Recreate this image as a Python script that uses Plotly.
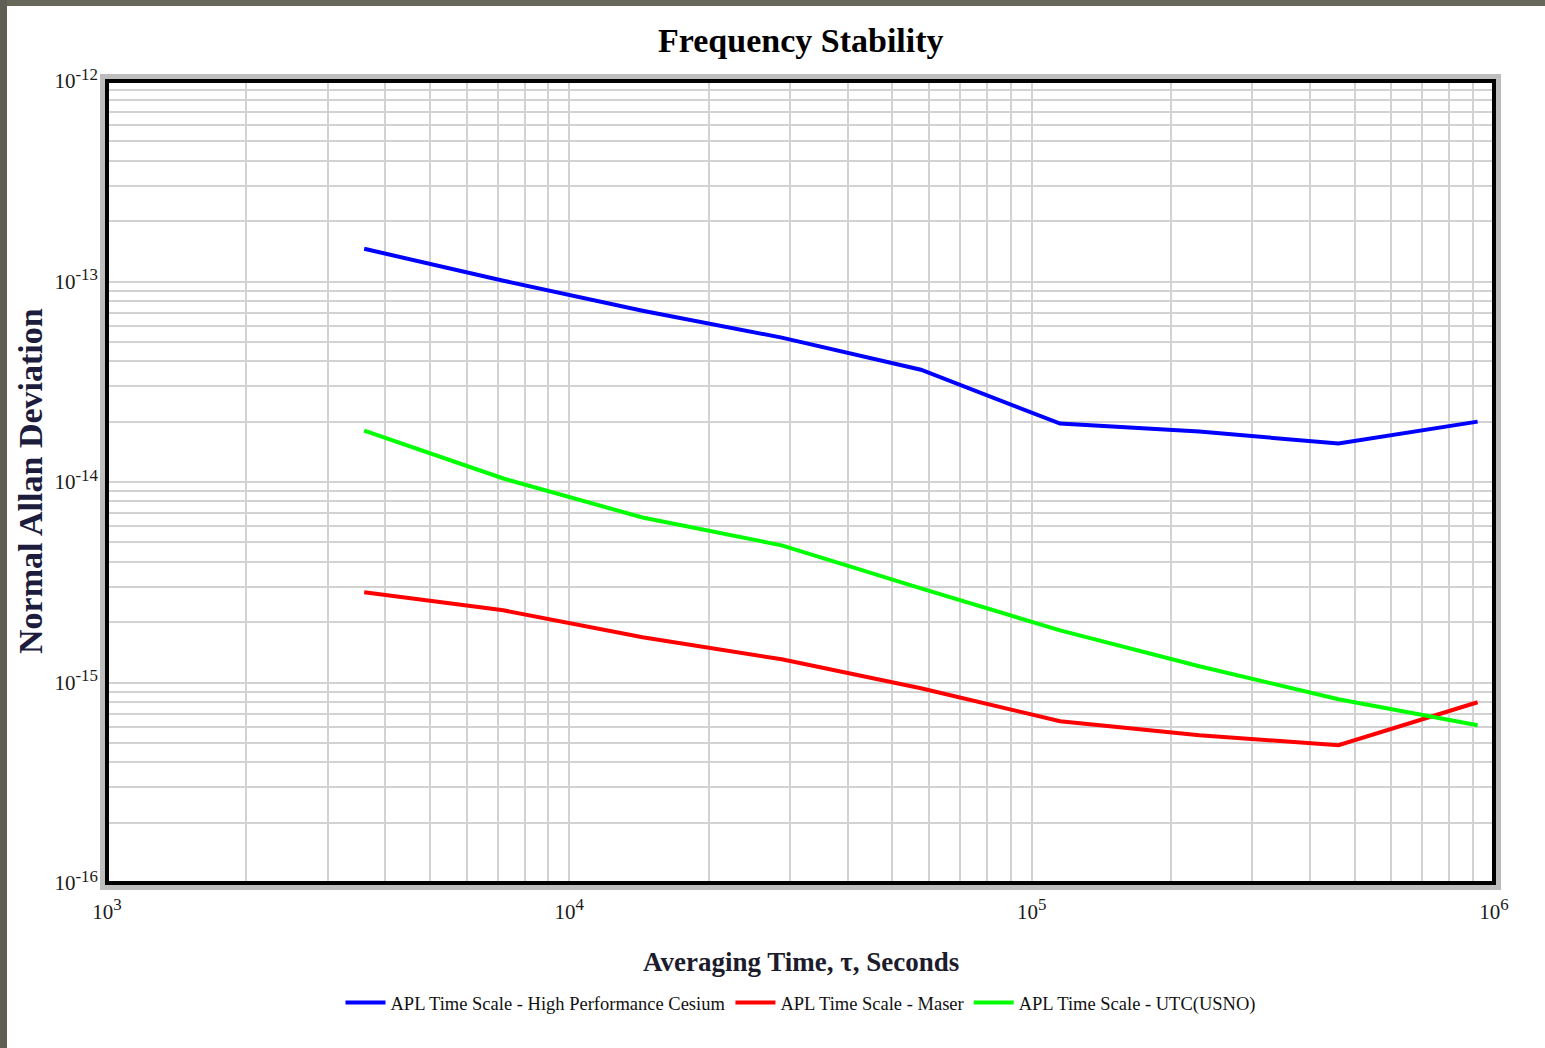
import plotly.graph_objects as go

# ---- data ----
tau = [3600, 7200, 14400, 28800, 57600, 115200, 230400, 460800, 921600]
cesium = [1.456e-13, 1.009e-13, 7.15e-14, 5.25e-14, 3.63e-14, 1.956e-14, 1.784e-14, 1.555e-14, 2.0e-14]
maser = [2.82e-15, 2.29e-15, 1.68e-15, 1.305e-15, 9.36e-16, 6.41e-16, 5.46e-16, 4.87e-16, 7.97e-16]
utc = [1.805e-14, 1.041e-14, 6.65e-15, 4.83e-15, 2.95e-15, 1.82e-15, 1.205e-15, 8.25e-16, 6.12e-16]
names = ["APL Time Scale - High Performance Cesium", "APL Time Scale - Maser", "APL Time Scale - UTC(USNO)"]
colors = ["#0000ff", "#ff0000", "#00ff00"]

x_decades = [3, 4, 5, 6]
y_decades = [-16, -15, -14, -13, -12]

W, H = 1545, 1048
ML, MR, MT, MB = 107, 51, 81, 165
PW, PH = W - ML - MR, H - MT - MB


def major_vals(decades):
    return ([10.0 ** d for d in decades],
            [f"10<sup><span style='font-size:1.15em'>{d}</span></sup>" for d in decades])


def minor_vals(decades):
    return [k * 10.0 ** d for d in decades[:-1] for k in range(2, 10)]


xv, xt = major_vals(x_decades)
yv, yt = major_vals(y_decades)

fig = go.Figure()
for vals, nm, c in zip([cesium, maser, utc], names, colors):
    fig.add_trace(go.Scatter(x=tau, y=vals, mode="lines", name=nm,
                             line=dict(color=c, width=4)))

serif = "Liberation Serif, Times New Roman, serif"
tickfont = dict(family=serif, size=21, color="#1a1a1a")
grid = dict(showgrid=True, gridcolor="#d2d2d2", gridwidth=2)

fig.update_xaxes(type="log", range=[x_decades[0], x_decades[-1]],
                 tickmode="array", tickvals=xv, ticktext=xt, tickfont=tickfont,
                 minor=dict(tickmode="array", tickvals=minor_vals(x_decades), ticks="", **grid),
                 zeroline=False, showline=False, ticks="", ticklabelstandoff=14, **grid)
fig.update_yaxes(type="log", range=[y_decades[0], y_decades[-1]],
                 tickmode="array", tickvals=yv, ticktext=yt, tickfont=tickfont,
                 minor=dict(tickmode="array", tickvals=minor_vals(y_decades), ticks="", **grid),
                 zeroline=False, showline=False, ticks="", ticklabelstandoff=8, **grid)


def px(p):
    return (p - ML) / PW


def py(p):
    return (H - MB - p) / PH


shapes = [
    # shadow frame
    dict(type="rect", xref="paper", yref="paper",
         x0=-4.5 / PW, x1=1 + 4.5 / PW, y0=-4.5 / PH, y1=1 + 4.5 / PH,
         line=dict(color="#bdbdbd", width=5), layer="above"),
    # black frame
    dict(type="rect", xref="paper", yref="paper", x0=0, x1=1, y0=0, y1=1,
         line=dict(color="#000000", width=4), layer="above"),
    # dark page strips (top and left)
    dict(type="rect", xref="paper", yref="paper",
         x0=px(0), x1=px(W), y0=py(6), y1=py(0),
         fillcolor="#67675a", line=dict(width=0), layer="above"),
    dict(type="rect", xref="paper", yref="paper",
         x0=px(0), x1=px(7), y0=py(H), y1=py(0),
         fillcolor="#5f5f54", line=dict(width=0), layer="above"),
]

annotations = [
    dict(text="<b>Frequency Stability</b>", xref="paper", yref="paper",
         x=0.5, y=py(40), xanchor="center", yanchor="middle", showarrow=False,
         font=dict(family=serif, size=34, color="#000000")),
    dict(text="<b>Averaging Time, τ, Seconds</b>", xref="paper", yref="paper",
         x=0.5, y=py(962), xanchor="center", yanchor="middle", showarrow=False,
         font=dict(family=serif, size=27, color="#1c1c2c")),
    dict(text="<b>Normal Allan Deviation</b>", xref="paper", yref="paper",
         x=px(30), y=py(481), xanchor="center", yanchor="middle", showarrow=False,
         textangle=-90, font=dict(family=serif, size=34, color="#1c1c3c")),
]

fig.update_layout(
    width=W, height=H,
    margin=dict(l=ML, r=MR, t=MT, b=MB),
    paper_bgcolor="#ffffff", plot_bgcolor="#ffffff",
    shapes=shapes, annotations=annotations,
    showlegend=True,
    legend=dict(orientation="h", x=0.5, xanchor="center", y=py(1003), yanchor="middle",
                font=dict(family=serif, size=18.5, color="#111111"),
                bgcolor="rgba(0,0,0,0)", itemwidth=40, tracegroupgap=0),
)

fig.write_html("out.html", config={"displayModeBar": False},
               post_script="document.body.style.margin='0';")
